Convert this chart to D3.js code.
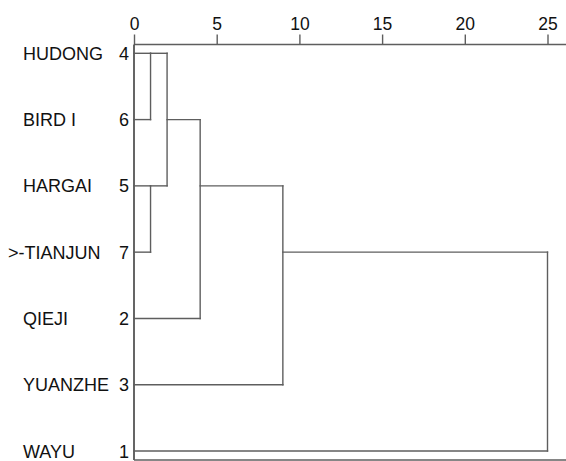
<!DOCTYPE html>
<html>
<head>
<meta charset="utf-8">
<script src="https://cdn.jsdelivr.net/npm/d3@7"></script>
<style>
  body { margin: 0; background: #fff; }
  text { font-family: "Liberation Sans", Arial, sans-serif; fill: #111; }
</style>
</head>
<body>
<div id="viz"></div>
<script>

// leaves in display order (top to bottom)
var leafNames = ["HUDONG", "BIRD I", "HARGAI", ">-TIANJUN", "QIEJI", "YUANZHE", "WAYU"];
var caseNums = [4, 6, 5, 7, 2, 3, 1];

// agglomeration schedule (rescaled distance)
var mergeA = [4, 5, 4, 2, 2, 1];
var mergeB = [6, 7, 5, 4, 3, 2];
var mergeDist = [1, 1, 2, 4, 9, 25];

var tickVals = [0, 5, 10, 15, 20, 25];

var W = 566, H = 461;
var lineCol = "#5e5e5e";

var svg = d3.select("#viz")
    .append("svg")
    .attr("width", W)
    .attr("height", H);

var x = d3.scaleLinear().domain([0, 25]).range([134, 547.5]);
var y = d3.scalePoint().domain(caseNums).range([53.3, 451]);

// axis on top
var axis = d3.axisTop(x).tickValues(tickVals).tickSize(10).tickPadding(5);
var gAxis = svg.append("g")
    .attr("transform", "translate(0,44.5)")
    .call(axis);
gAxis.select(".domain").remove();
gAxis.selectAll(".tick line").attr("stroke", lineCol).attr("stroke-width", 1.4);
gAxis.selectAll(".tick text")
    .style("font-size", "17.5px")
    .style("font-family", "'Liberation Sans', Arial, sans-serif")
    .attr("fill", "#111");

// frame: top, left, bottom
svg.append("line").attr("x1", x(0)).attr("x2", W).attr("y1", 44.5).attr("y2", 44.5)
    .attr("stroke", lineCol).attr("stroke-width", 1.7);
svg.append("line").attr("x1", x(0)).attr("x2", x(0)).attr("y1", 44.5).attr("y2", 460)
    .attr("stroke", "#4a4a4a").attr("stroke-width", 1.7);
svg.append("line").attr("x1", x(0)).attr("x2", W).attr("y1", 460).attr("y2", 460)
    .attr("stroke", lineCol).attr("stroke-width", 1.7);

// labels
var rows = svg.selectAll("g.leaf")
    .data(leafNames)
    .enter()
    .append("g")
    .attr("class", "leaf");

rows.append("text")
    .attr("x", function(d){ return d.charAt(0) == ">" ? 8 : 23; })
    .attr("y", function(d, i){ return y(caseNums[i]) + 6.5; })
    .style("font-size", "18px")
    .text(function(d){ return d; });

rows.append("text")
    .attr("x", 129)
    .attr("y", function(d, i){ return y(caseNums[i]) + 6.5; })
    .attr("text-anchor", "end")
    .style("font-size", "18px")
    .text(function(d, i){ return caseNums[i]; });

// build dendrogram segments
var state = {};
caseNums.forEach(function(c, i){ state[c] = {row: i, dist: 0}; });

var segs = [];
mergeA.forEach(function(a, k){
    var b = mergeB[k], h = mergeDist[k];
    var sa = state[a], sb = state[b];
    segs.push([x(sa.dist), y(caseNums[sa.row]), x(h), y(caseNums[sa.row])]);
    segs.push([x(sb.dist), y(caseNums[sb.row]), x(h), y(caseNums[sb.row])]);
    segs.push([x(h), y(caseNums[sa.row]), x(h), y(caseNums[sb.row])]);
    var r = Math.floor((sa.row + sb.row) / 2);
    state[a] = {row: r, dist: h};
    delete state[b];
});

svg.selectAll("line.seg")
    .data(segs)
    .enter()
    .append("line")
    .attr("class", "seg")
    .attr("x1", function(d){ return d[0]; })
    .attr("y1", function(d){ return d[1]; })
    .attr("x2", function(d){ return d[2]; })
    .attr("y2", function(d){ return d[3]; })
    .attr("stroke", lineCol)
    .attr("stroke-width", 1.4)
    .attr("stroke-linecap", "square");

</script>
</body>
</html>
